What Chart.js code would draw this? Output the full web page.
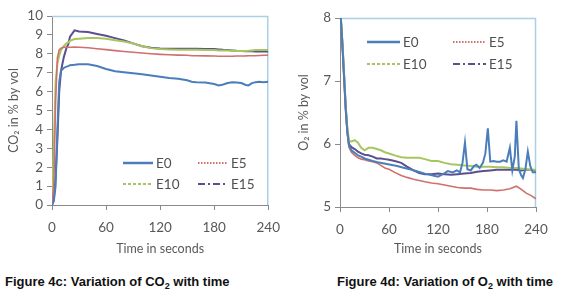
<!DOCTYPE html>
<html><head><meta charset="utf-8">
<script src="https://cdn.jsdelivr.net/npm/chart.js@4"></script>
<style>
html,body{margin:0;padding:0;background:#fff;width:580px;height:306px;overflow:hidden;}
.wrap{position:absolute;top:0;width:290px;height:262px;}
.cap{position:absolute;top:274px;font:bold 13px "Liberation Sans",Arial,sans-serif;color:#111;white-space:nowrap;}
.cap sub{font-size:9px;vertical-align:-3px;line-height:0}
</style></head><body>
<div class="wrap" style="left:0"><canvas id="c1" width="290" height="262"></canvas></div>
<div class="wrap" style="left:290px"><canvas id="c2" width="290" height="262"></canvas></div>
<div class="cap" style="left:5px">Figure 4c: Variation of CO<sub>2</sub> with time</div>
<div class="cap" style="left:337px">Figure 4d: Variation of O<sub>2</sub> with time</div>
<script>
// ---- data ----
const seriesNames = ['E0','E5','E10','E15'];
const xTicks = [0,60,120,180,240];

const co2Time = [0,2,4,6,8,10,13,16,18,20,25,30,40,50,60,70,80,90,100,110,120,130,140,150,155,160,170,180,185,190,195,200,205,210,215,218,222,226,230,235,240];
const co2E0  = [0,0.2,1,4,6.5,7.1,7.25,7.32,7.35,7.4,7.42,7.45,7.45,7.35,7.2,7.08,7.02,6.97,6.92,6.85,6.78,6.72,6.68,6.6,6.52,6.5,6.48,6.4,6.33,6.38,6.45,6.5,6.48,6.45,6.35,6.33,6.45,6.5,6.52,6.5,6.52];
const co2E5  = [0,1,5.5,7.8,8.2,8.3,8.35,8.35,8.35,8.35,8.36,8.35,8.32,8.27,8.22,8.17,8.12,8.08,8.04,8.0,7.97,7.95,7.93,7.92,7.9,7.9,7.89,7.88,7.87,7.87,7.87,7.87,7.88,7.88,7.89,7.9,7.9,7.9,7.91,7.92,7.92];
const co2E10 = [0.3,3,6.5,7.5,7.9,8.2,8.4,8.55,8.6,8.68,8.78,8.8,8.83,8.83,8.8,8.72,8.65,8.55,8.4,8.3,8.25,8.23,8.22,8.22,8.22,8.22,8.2,8.2,8.18,8.18,8.17,8.16,8.15,8.15,8.15,8.16,8.18,8.2,8.2,8.2,8.2];
const co2E15 = [0,0.3,1.5,3.5,6.0,7.1,7.8,8.3,8.5,8.9,9.24,9.18,9.15,9.05,8.95,8.83,8.7,8.55,8.4,8.32,8.28,8.27,8.27,8.27,8.27,8.27,8.26,8.25,8.23,8.21,8.2,8.18,8.16,8.15,8.14,8.13,8.13,8.12,8.12,8.12,8.12];
const co2Ticks = [0,1,2,3,4,5,6,7,8,9,10];

const o2TimeE0 = [1,3,5,7,9,11,14,18,22,26,30,35,40,46,54,62,70,79,88,96,104,108,114,120,126,132,138,143,147,150,153,156,160,164,167,171,175,178,181,184,188,192,196,200,204,208,211,214,216,219,222,224,227,230,233,236,240];
const o2E0 = [8,7.55,7.05,6.55,6.2,5.98,5.9,5.86,5.82,5.8,5.77,5.75,5.73,5.71,5.69,5.67,5.65,5.62,5.59,5.56,5.53,5.52,5.5,5.48,5.52,5.57,5.55,5.58,5.55,5.7,6.02,5.6,5.58,5.65,5.67,5.62,5.7,5.85,6.25,5.72,5.73,5.72,5.72,5.74,5.72,5.94,5.58,5.8,6.37,5.6,5.5,5.46,5.6,5.88,5.65,5.55,5.55];
const o2Time = [1,3,5,7,9,11,14,18,22,26,30,35,40,45,50,55,60,67,75,82,90,97,104,112,120,128,136,144,152,160,168,176,184,192,200,208,216,222,228,234,240];
const o2E5  = [8.0,7.5,7.0,6.5,6.15,5.95,5.87,5.82,5.78,5.76,5.75,5.73,5.72,5.7,5.66,5.62,5.6,5.55,5.5,5.47,5.44,5.42,5.4,5.38,5.37,5.35,5.33,5.31,5.3,5.3,5.28,5.27,5.27,5.26,5.27,5.29,5.33,5.28,5.22,5.18,5.13];
const o2E10 = [8.0,7.6,7.1,6.6,6.25,6.05,6.04,6.06,6.02,5.94,5.9,5.94,5.94,5.92,5.9,5.87,5.85,5.82,5.79,5.78,5.78,5.78,5.76,5.73,5.73,5.7,5.68,5.67,5.66,5.65,5.64,5.64,5.64,5.63,5.63,5.62,5.62,5.61,5.6,5.59,5.59];
const o2E15 = [8.0,7.6,7.1,6.6,6.2,6.0,5.95,5.92,5.88,5.85,5.83,5.82,5.8,5.77,5.77,5.76,5.75,5.73,5.7,5.64,5.58,5.54,5.52,5.52,5.53,5.52,5.51,5.52,5.53,5.54,5.56,5.57,5.58,5.59,5.59,5.59,5.59,5.58,5.59,5.59,5.58];
const o2Ticks = [5,6,7,8];

// ---- styling ----
const FONT = 'Lato, "Open Sans", sans-serif';
const TXT = '#595959';
const AXIS = '#8a8a8a';
const colors = ['#4a7ebb','#d0706c','#a8c65f','#5b4f8f'];
const legendDash = [[], [1.5,1.5], [3,2], [7,3,2,3]];

const pts = (t, v) => t.map((x, i) => ({x: x, y: v[i]}));

const frame = {
  id: 'frame',
  beforeDatasetsDraw(chart){
    const a = chart.chartArea, c = chart.ctx;
    c.save();
    c.strokeStyle = '#a9d0e4'; c.lineWidth = 1.5;
    c.beginPath();
    c.moveTo(a.left, a.top + 0.5); c.lineTo(a.right - 0.5, a.top + 0.5); c.lineTo(a.right - 0.5, a.bottom);
    c.stroke();
    c.restore();
  }
};
const inLegend = {
  id: 'inLegend',
  afterDatasetsDraw(chart, args, opts){
    const c = chart.ctx;
    c.save();
    chart.data.datasets.forEach((ds, i) => {
      const [x, y] = opts.pos[i];
      c.strokeStyle = ds.borderColor;
      c.lineWidth = i === 0 ? 2.5 : 2;
      c.setLineDash(legendDash[i]);
      c.beginPath(); c.moveTo(x, y); c.lineTo(x + opts.len, y); c.stroke();
      c.setLineDash([]);
      c.fillStyle = '#505050';
      c.font = '13.5px ' + FONT;
      c.textBaseline = 'middle';
      c.fillText(ds.label, x + opts.len + 3, y + 1);
    });
    c.restore();
  }
};

function makeChart(id, sets, yTicks, yTitle, pad, yWidth, xHeight, legendPos, legendLen){
  return new Chart(document.getElementById(id), {
    type: 'line',
    data: {
      datasets: sets.map((s, i) => ({
        label: seriesNames[i],
        data: pts(s[0], s[1]),
        borderColor: colors[i],
        borderWidth: i === 1 ? 1.6 : 2,
        pointRadius: 0,
        tension: 0,
        fill: false
      }))
    },
    options: {
      responsive: false,
      animation: false,
      layout: {padding: pad},
      plugins: {
        legend: {display: false},
        tooltip: {enabled: false},
        inLegend: {pos: legendPos, len: legendLen}
      },
      scales: {
        x: {
          type: 'linear',
          min: xTicks[0], max: xTicks[xTicks.length - 1],
          afterBuildTicks: s => { s.ticks = xTicks.map(v => ({value: v})); },
          afterFit: s => { s.height = xHeight; },
          grid: {drawOnChartArea: false, tickLength: 5, color: AXIS},
          border: {color: AXIS, width: 1},
          ticks: {color: TXT, font: {family: FONT, size: 13.5}, padding: 10, maxRotation: 0, autoSkip: false},
          title: {display: true, text: 'Time in seconds', color: TXT, font: {family: FONT, size: 12.5}, padding: {top: 0, bottom: 6}}
        },
        y: {
          min: yTicks[0], max: yTicks[yTicks.length - 1],
          afterBuildTicks: s => { s.ticks = yTicks.map(v => ({value: v})); },
          afterFit: s => { s.width = yWidth; },
          grid: {drawOnChartArea: false, tickLength: 5, color: AXIS},
          border: {color: AXIS, width: 1},
          ticks: {color: TXT, font: {family: FONT, size: 13.5}, padding: 4, autoSkip: false},
          title: {display: true, text: yTitle, color: TXT, font: {family: FONT, size: 12.5}, padding: {top: 6, bottom: 0}}
        }
      }
    },
    plugins: [frame, inLegend]
  });
}

makeChart('c1',
  [[co2Time, co2E0], [co2Time, co2E5], [co2Time, co2E10], [co2Time, co2E15]],
  co2Ticks, 'CO\u2082 in % by vol',
  {top: 16, right: 21, left: 0, bottom: 0}, 52, 57,
  [[123,163],[198,163],[123,184],[198,184]], 30);

makeChart('c2',
  [[o2TimeE0, o2E0], [o2Time, o2E5], [o2Time, o2E10], [o2Time, o2E15]],
  o2Ticks, 'O\u2082 in % by vol',
  {top: 18, right: 44, left: 0, bottom: 0}, 50, 55,
  [[77,42],[163,42],[77,64],[163,64]], 33);
</script>
</body></html>
